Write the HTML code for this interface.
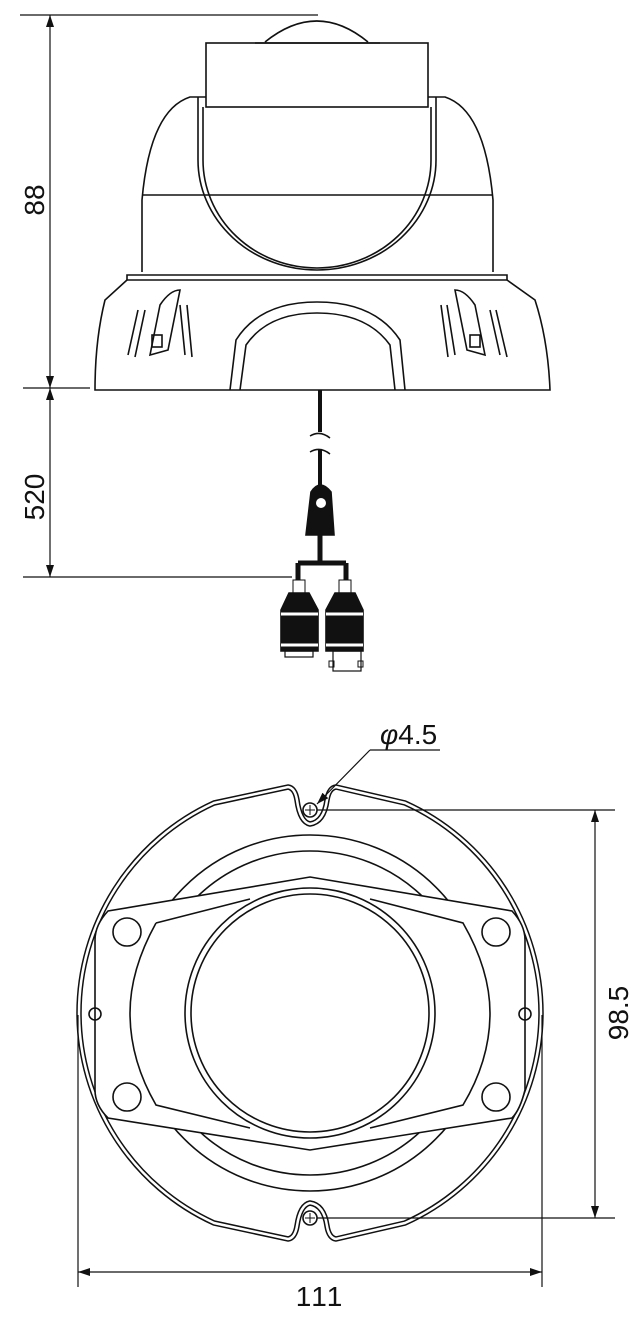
<!DOCTYPE html>
<html><head><meta charset="utf-8"><style>html,body{margin:0;padding:0;background:#fff}svg{display:block}</style></head><body>
<svg width="640" height="1321" viewBox="0 0 640 1321" xmlns="http://www.w3.org/2000/svg" fill="none" stroke="#111" stroke-width="1.6" font-family="Liberation Sans, sans-serif">
<defs><marker id="a" markerWidth="12" markerHeight="8" refX="12" refY="4" orient="auto-start-reverse" markerUnits="userSpaceOnUse"><path d="M0,0 L12,4 L0,8z" fill="#111" stroke="none"/></marker>
<path id="ol" d="M214,803 L288,787 Q295,788 297,800 Q300,822 310,824 Q324,822 327,800 Q329,788 336,787 L405,803 A231,231 0 0 1 541,1013 A231,231 0 0 1 405,1223 L336,1239 Q329,1238 327,1226 Q324,1205 310,1203 Q300,1205 297,1226 Q295,1238 288,1239 L214,1223 A231,231 0 0 1 79,1013 A231,231 0 0 1 214,803 Z"/></defs>
<!-- top dims -->
<line x1="20" y1="15" x2="318" y2="15" stroke-width="1.2"/>
<line x1="23" y1="388" x2="90" y2="388" stroke-width="1.2"/>
<line x1="23" y1="577" x2="292" y2="577" stroke-width="1.2"/>
<line x1="50" y1="15" x2="50" y2="388" marker-start="url(#a)" marker-end="url(#a)" stroke-width="1.2"/>
<line x1="50" y1="388" x2="50" y2="577" marker-start="url(#a)" marker-end="url(#a)" stroke-width="1.2"/>
<text x="0" y="0" transform="translate(44,200) rotate(-90)" text-anchor="middle" font-size="28" fill="#111" stroke="none">88</text>
<text x="0" y="0" transform="translate(44,497) rotate(-90)" text-anchor="middle" font-size="28" fill="#111" stroke="none">520</text>
<!-- camera side -->
<path d="M265,42 Q317,0 368,42"/>
<line x1="255" y1="43" x2="380" y2="43"/>
<rect x="206" y="43" width="222" height="64"/>
<path d="M142,272 L142,200 Q150,110 190,97 L206,97"/>
<path d="M493,272 L493,200 Q485,110 445,97 L428,97"/>
<line x1="142" y1="195" x2="493" y2="195"/>
<path d="M198,97 L198,160 A119,110 0 0 0 436,160 L436,97"/>
<path d="M203,107 L203,160 A114,108 0 0 0 431,160 L431,107"/>
<path d="M127,275 L507,275 L507,280 L127,280 Z"/>
<path d="M127,280 L105,300 Q95,340 95,390 L550,390 Q548,340 535,300 L507,280"/>
<path d="M230,390 L236,340 Q260,302 317,302 Q375,302 400,340 L405,390"/>
<path d="M240,390 L246,345 Q268,313 317,313 Q367,313 390,345 L395,390"/>
<path d="M150,355 L160,305 Q170,290 180,290 L168,350 Z"/>
<path d="M138,310 L128,355 M145,310 L135,357 M180,305 L185,355 M187,305 L192,357"/>
<rect x="152" y="335" width="10" height="12"/>
<path d="M485,355 L475,305 Q465,290 455,290 L467,350 Z"/>
<path d="M447,305 L455,355 M441,305 L448,357 M490,310 L500,355 M496,310 L507,357"/>
<rect x="470" y="335" width="10" height="12"/>
<!-- cable -->
<line x1="320" y1="390" x2="320" y2="432" stroke-width="4"/>
<line x1="320" y1="450" x2="320" y2="490" stroke-width="4"/>
<path d="M310,436 Q320,430 330,438 M310,452 Q320,446 330,454" stroke-width="1.5"/>
<path d="M311,492 Q320,478 331,492 L334,535 L306,535 Z" fill="#111"/>
<circle cx="321" cy="503" r="5" fill="#fff" stroke="none"/>
<line x1="320" y1="535" x2="320" y2="562" stroke-width="5"/>
<path d="M298,563 L346,563 M298,563 L298,580 M346,563 L346,580" stroke-width="5"/>
<rect x="293" y="580" width="12" height="13" stroke-width="1"/>
<rect x="339" y="580" width="12" height="13" stroke-width="1"/>
<path d="M289,593 L309,593 L318,610 L318,651 L281,651 L281,610 Z" fill="#111"/>
<path d="M335,593 L355,593 L363,610 L363,651 L326,651 L326,610 Z" fill="#111"/>
<line x1="281" y1="614" x2="318" y2="614" stroke="#fff" stroke-width="3"/>
<line x1="326" y1="614" x2="363" y2="614" stroke="#fff" stroke-width="3"/>
<line x1="281" y1="645" x2="318" y2="645" stroke="#fff" stroke-width="3"/>
<line x1="326" y1="645" x2="363" y2="645" stroke="#fff" stroke-width="3"/>
<rect x="285" y="651" width="28" height="6" stroke-width="1.2"/>
<rect x="333" y="651" width="28" height="20" stroke-width="1.2"/>
<rect x="329" y="661" width="5" height="6" stroke-width="1"/>
<rect x="358" y="661" width="5" height="6" stroke-width="1"/>
<!-- bottom view -->
<use href="#ol" stroke-width="5.5"/>
<use href="#ol" stroke="#fff" stroke-width="2.5"/>
<circle cx="310" cy="1013" r="178"/>
<circle cx="310" cy="1013" r="162"/>
<path d="M310,877 L512,911 Q525,925 525,940 L525,1090 Q520,1110 512,1118 L310,1150 L108,1118 Q95,1105 95,1090 L95,940 Q95,925 108,911 Z" fill="#fff"/>
<path d="M156,923 L250,899 M370,899 L463,923 Q490,970 490,1013 Q490,1060 463,1105 L370,1128 M250,1128 L156,1105 Q130,1060 130,1013 Q130,970 156,923"/>
<circle cx="310" cy="1013" r="125" fill="#fff"/>
<circle cx="310" cy="1013" r="119"/>
<circle cx="127" cy="932" r="14"/><circle cx="496" cy="932" r="14"/>
<circle cx="127" cy="1097" r="14"/><circle cx="496" cy="1097" r="14"/>
<circle cx="95" cy="1014" r="6"/><circle cx="525" cy="1014" r="6"/>
<circle cx="310" cy="810" r="7"/><circle cx="310" cy="1218" r="7"/>
<path d="M305,810 L315,810 M310,805 L310,815 M305,1218 L315,1218 M310,1213 L310,1223" stroke-width="1"/>
<!-- bottom dims -->
<line x1="317" y1="810" x2="615" y2="810" stroke-width="1.2"/>
<line x1="317" y1="1218" x2="615" y2="1218" stroke-width="1.2"/>
<line x1="595" y1="810" x2="595" y2="1218" marker-start="url(#a)" marker-end="url(#a)" stroke-width="1.2"/>
<text transform="translate(628,1013) rotate(-90)" text-anchor="middle" font-size="28" fill="#111" stroke="none">98.5</text>
<line x1="78" y1="1015" x2="78" y2="1287" stroke-width="1.2"/>
<line x1="542" y1="1015" x2="542" y2="1287" stroke-width="1.2"/>
<line x1="78" y1="1272" x2="542" y2="1272" marker-start="url(#a)" marker-end="url(#a)" stroke-width="1.2"/>
<text x="320" y="1306" text-anchor="middle" font-size="28" fill="#111" stroke="none" letter-spacing="2">111</text>
<line x1="440" y1="750" x2="370" y2="750" stroke-width="1.2"/>
<line x1="370" y1="750" x2="317" y2="804" marker-end="url(#a)" stroke-width="1.2"/>
<text x="380" y="744" font-size="28" fill="#111" stroke="none" font-style="italic">φ<tspan font-style="normal">4.5</tspan></text>
</svg>
</body></html>
